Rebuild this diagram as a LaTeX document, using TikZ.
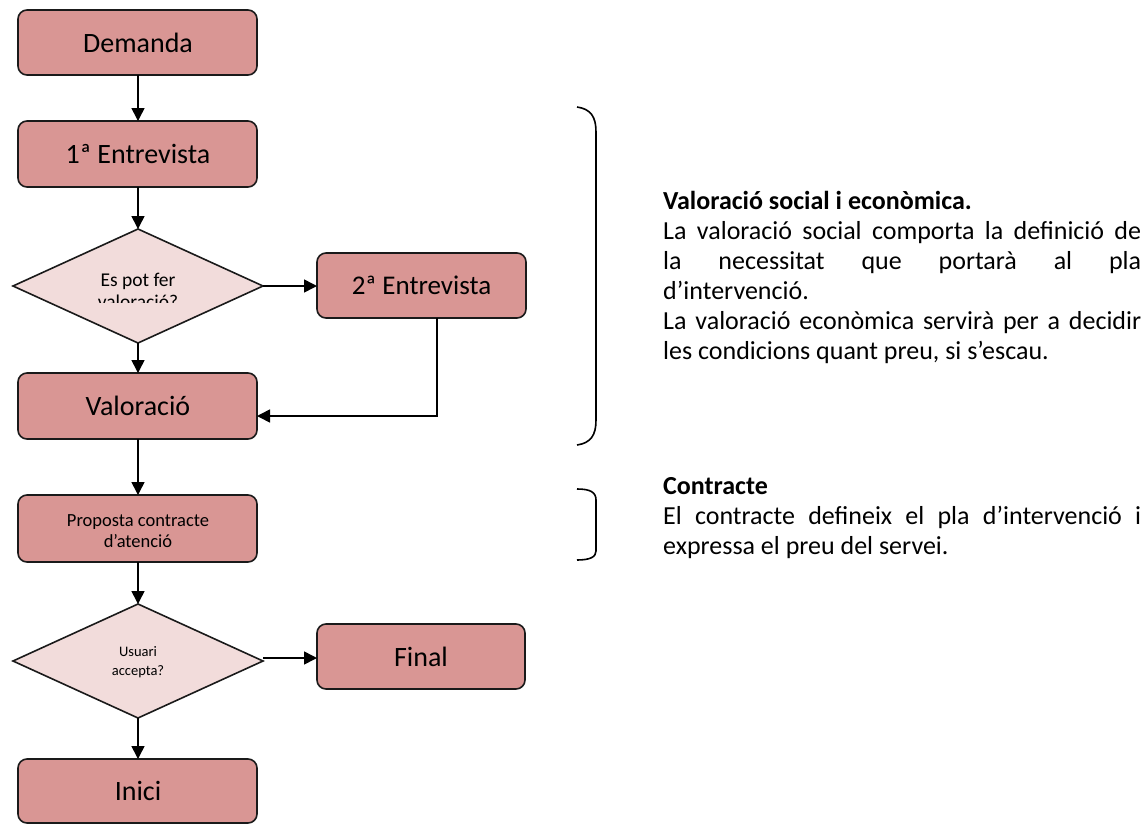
\documentclass[tikz,border=0pt]{standalone}
\usepackage{fontspec}
\setmainfont{Carlito}
\usetikzlibrary{arrows.meta,calc}
\definecolor{boxfill}{HTML}{D99694}
\definecolor{diafill}{HTML}{F2DCDB}
\definecolor{edge}{HTML}{1A1A1A}
\tikzset{
  proc/.style={draw=edge,line width=1.6pt,fill=boxfill,rounded corners=9pt},
  dia/.style={draw=edge,line width=1.6pt,fill=diafill},
  lbl/.style={font=\fontsize{28}{32}\selectfont,inner sep=0pt},
  conn/.style={line width=1.6pt,-{Triangle[length=13pt,width=13pt]}},
  brk/.style={line width=1.6pt},
  note/.style={anchor=north west,inner sep=0pt,text width=478pt,align=justify,font=\fontsize{26}{30}\selectfont}
}
\begin{document}
\begin{tikzpicture}[x=1pt,y=-1pt]
\useasboundingbox (0,0) rectangle (1144,825);
% boxes
\draw[proc] (18,10) rectangle (257,75);
\node[lbl] (dem) at (138,42.5) {Demanda};
\coordinate (demB) at (138,75);
\draw[proc] (18,121) rectangle (257,187);
\node[lbl] (ent1) at (138,154) {1ª Entrevista};
\coordinate (ent1T) at (138,121);
\coordinate (ent1B) at (138,187);
% diamond 1
\draw[dia] (138,229) -- (263,286) -- (138,343) -- (13,286) -- cycle;
\coordinate (d1T) at (138,229);
\coordinate (d1R) at (263,286);
\coordinate (d1B) at (138,343);
\begin{scope}
\clip (0,0) rectangle (1144,302);
\node[inner sep=0pt,align=center,font=\fontsize{19.5}{22}\selectfont] (q1) at (138,291) {Es pot fer\\valoració?};
\end{scope}
% 2a entrevista
\draw[proc] (317,253) rectangle (526,318);
\node[lbl,font=\fontsize{27}{30}\selectfont] (ent2) at (421.5,285.5) {2ª Entrevista};
\coordinate (ent2L) at (317,286);
\coordinate (ent2B) at (437,318);
% valoracio
\draw[proc] (18,373) rectangle (257,439);
\node[lbl] (val) at (138,406) {Valoració};
\coordinate (valT) at (138,373);
\coordinate (valB) at (138,439);
\coordinate (valR) at (257,416);
% proposta
\draw[proc] (18,495) rectangle (257,562);
\node[inner sep=0pt,align=center,font=\fontsize{18.5}{21}\selectfont] (prop) at (138,531) {Proposta contracte\\d’atenció};
\coordinate (propT) at (138,495);
\coordinate (propB) at (138,562);
% diamond 2
\draw[dia] (138,604) -- (263,661) -- (138,718) -- (13,661) -- cycle;
\coordinate (d2T) at (138,604);
\coordinate (d2R) at (263,658);
\coordinate (d2B) at (138,718);
\node[inner sep=0pt,align=center,font=\fontsize{14.5}{19}\selectfont] (q2) at (138,662) {Usuari\\accepta?};
% final
\draw[proc] (317,624) rectangle (525,689);
\node[lbl] (fin) at (421,656.5) {Final};
\coordinate (finL) at (317,658);
% inici
\draw[proc] (18,759) rectangle (257,823);
\node[lbl] (ini) at (138,791) {Inici};
\coordinate (iniT) at (138,759);
% connectors
\draw[conn] (demB) -- (ent1T);
\draw[conn] (ent1B) -- (d1T);
\draw[conn] (d1R) -- (ent2L);
\draw[conn] (d1B) -- (valT);
\draw[conn] (ent2B) |- (valR);
\draw[conn] (valB) -- (propT);
\draw[conn] (propB) -- (d2T);
\draw[conn] (d2R) -- (finL);
\draw[conn] (d2B) -- (iniT);
% brackets
\draw[brk] (577,107) .. controls (591,109) and (596,117) .. (596,132) -- (596,420) .. controls (596,435) and (591,443) .. (577,445);
\draw[brk] (577,489) .. controls (590,489) and (596,492) .. (596,500) -- (596,551) .. controls (596,557) and (590,560) .. (577,560);
% notes
\node[note] (n1) at (663,191) {\textbf{Valoració social i econòmica.}\\
La valoració social comporta la definició de\linebreak
la necessitat que portarà al pla\linebreak
d’intervenció.\\
La valoració econòmica servirà per a decidir\linebreak
les condicions quant preu, si s’escau.};
\node[note] (n2) at (663,477) {\textbf{Contracte}\\
El contracte defineix el pla d’intervenció i\linebreak
expressa el preu del servei.};
\end{tikzpicture}
\end{document}
